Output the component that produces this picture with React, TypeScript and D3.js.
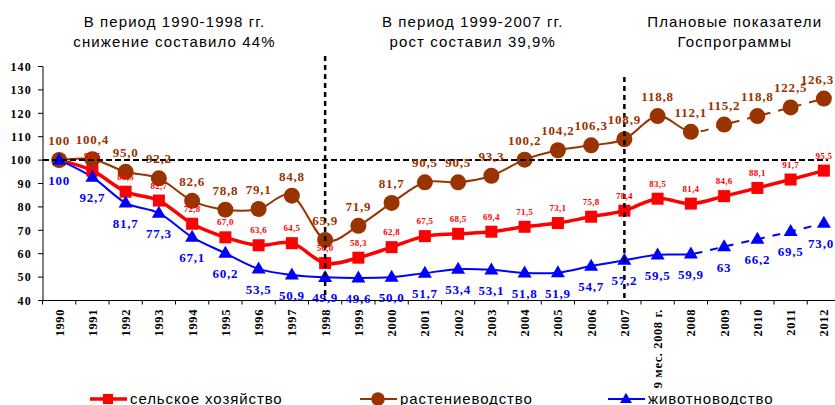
import * as d3 from "d3";

const categories = [
  "1990", "1991", "1992", "1993", "1994", "1995", "1996", "1997", "1998", "1999",
  "2000", "2001", "2002", "2003", "2004", "2005", "2006", "2007", "9 мес. 2008 г.",
  "2008", "2009", "2010", "2011", "2012",
];

// сельское хозяйство
const agriculture = [100, 95.5, 86.5, 82.7, 72.8, 67.0, 63.6, 64.5, 56.0, 58.3, 62.8, 67.5, 68.5, 69.4, 71.5, 73.1, 75.8, 78.4, 83.5, 81.4, 84.6, 88.1, 91.7, 95.5];
const agricultureLabels = ["", "95,5", "86,5", "82,7", "72,8", "67,0", "63,6", "64,5", "56,0", "58,3", "62,8", "67,5", "68,5", "69,4", "71,5", "73,1", "75,8", "78,4", "83,5", "81,4", "84,6", "88,1", "91,7", "95,5"];

// растениеводство
const crops = [100, 100.4, 95.0, 92.2, 82.6, 78.8, 79.1, 84.8, 65.9, 71.9, 81.7, 90.5, 90.5, 93.3, 100.2, 104.2, 106.3, 108.9, 118.8, 112.1, 115.2, 118.8, 122.5, 126.3];
const cropsLabels = ["100", "100,4", "95,0", "92,2", "82,6", "78,8", "79,1", "84,8", "65,9", "71,9", "81,7", "90,5", "90,5", "93,3", "100,2", "104,2", "106,3", "108,9", "118,8", "112,1", "115,2", "118,8", "122,5", "126,3"];

// животноводство
const livestock = [100, 92.7, 81.7, 77.3, 67.1, 60.2, 53.5, 50.9, 49.9, 49.6, 50.0, 51.7, 53.4, 53.1, 51.8, 51.9, 54.7, 57.2, 59.5, 59.9, 63, 66.2, 69.5, 73.0];
const livestockLabels = ["100", "92,7", "81,7", "77,3", "67,1", "60,2", "53,5", "50,9", "49,9", "49,6", "50,0", "51,7", "53,4", "53,1", "51,8", "51,9", "54,7", "57,2", "59,5", "59,9", "63", "66,2", "69,5", "73,0"];

const yTicks = [40, 50, 60, 70, 80, 90, 100, 110, 120, 130, 140];

// titles are centred on the left edge of a category band
const titles = [
  { cat: "1994", lines: ["В период 1990-1998 гг.", "снижение составило 44%"], dx: -1 },
  { cat: "2003", lines: ["В период 1999-2007 гг.", "рост составил 39,9%"], dx: -2 },
  { cat: "2010", lines: ["Плановые показатели", "Госпрограммы"], dx: -6 },
];

const SERIF = "'Liberation Serif', 'Times New Roman', serif";
const SANS = "'Liberation Sans', Arial, sans-serif";

const W = 835;
const H = 405;

export default function App() {
  const x = d3.scaleBand().domain(categories).range([42.5, 42.5 + 24 * 33.25]).padding(0);
  const cx = (i: number) => (x(categories[i]) as number) + x.bandwidth() / 2;
  const y = d3.scaleLinear().domain([40, 140]).range([300.5, 66.5]);

  const line = d3
    .line<number>()
    .x((_, i) => cx(i))
    .y((d) => y(d))
    .curve(d3.curveCardinal.tension(0));

  const splitX = cx(categories.indexOf("2008"));
  const last = categories.length - 1;

  const series = [
    { name: "сельское хозяйство", color: "#ff0000", values: agriculture, width: 3.5, marker: "square", dashed: false },
    { name: "растениеводство", color: "#993300", values: crops, width: 2, marker: "circle", dashed: true },
    { name: "животноводство", color: "#0000ff", values: livestock, width: 2, marker: "triangle", dashed: true },
  ];

  const marker = (type: string, px: number, py: number, color: string, s = 1) => {
    if (type === "square") return <rect x={px - 6 * s} y={py - 6 * s} width={12 * s} height={12 * s} fill={color} />;
    if (type === "circle") return <circle cx={px} cy={py} r={8 * s} fill={color} />;
    const h = 12 * s;
    const w = 14 * s;
    return <path d={`M${px},${py - h * 0.62}L${px + w / 2},${py + h * 0.38}L${px - w / 2},${py + h * 0.38}Z`} fill={color} />;
  };

  // big labels on the last point are pushed in so they stay inside the picture
  const labelX = (i: number) => (i === last ? W - 1 : cx(i));
  const labelAnchor = (i: number) => (i === last ? "end" : "middle");

  const x1998 = cx(categories.indexOf("1998"));
  const x2007 = cx(categories.indexOf("2007"));

  const legend = [
    { s: series[0], x: 90 },
    { s: series[1], x: 360 },
    { s: series[2], x: 608 },
  ];

  return (
    <svg width={W} height={H} style={{ position: "absolute", left: 0, top: 0, background: "#fff" }}>
      <defs>
        <clipPath id="solidPart">
          <rect x={0} y={0} width={splitX} height={H} />
        </clipPath>
        <clipPath id="dashPart">
          <rect x={splitX} y={0} width={W - splitX} height={H} />
        </clipPath>
      </defs>

      {titles.map((t) => {
        const tx = (x(t.cat) as number) + t.dx;
        return (
          <text key={t.cat} x={tx} textAnchor="middle" fontFamily={SANS} fontSize={15} letterSpacing={1.1} fill="#000">
            <tspan x={tx} y={27}>{t.lines[0]}</tspan>
            <tspan x={tx} y={47}>{t.lines[1]}</tspan>
          </text>
        );
      })}

      {/* axes */}
      <line x1={43} x2={43} y1={y(140)} y2={y(40)} stroke="#000" strokeWidth={1} />
      {yTicks.map((t) => (
        <g key={t}>
          <line x1={38} x2={43} y1={y(t)} y2={y(t)} stroke="#000" />
          <text x={32} y={y(t)} dy="0.35em" textAnchor="end" fontFamily={SERIF} fontWeight="bold" fontSize={12} letterSpacing={1.2}>
            {t}
          </text>
        </g>
      ))}
      <line x1={43} x2={W} y1={y(40)} y2={y(40)} stroke="#000" />
      {categories.map((c) => (
        <line key={c} x1={x(c) as number} x2={x(c) as number} y1={y(40)} y2={y(40) + 4} stroke="#000" />
      ))}
      {categories.map((c, i) => (
        <text
          key={c}
          transform={`translate(${cx(i)},309) rotate(-90)`}
          dy="0.35em"
          textAnchor="end"
          fontFamily={SERIF}
          fontWeight="bold"
          fontSize={12.5}
          letterSpacing={0.6}
        >
          {c}
        </text>
      ))}

      {/* series lines */}
      {series.map((s) =>
        s.dashed ? (
          <g key={s.name}>
            <path d={line(s.values) || ""} fill="none" stroke={s.color} strokeWidth={s.width} clipPath="url(#solidPart)" />
            <path d={line(s.values) || ""} fill="none" stroke={s.color} strokeWidth={s.width} strokeDasharray="8,8" strokeDashoffset={4} clipPath="url(#dashPart)" />
          </g>
        ) : (
          <path key={s.name} d={line(s.values) || ""} fill="none" stroke={s.color} strokeWidth={s.width} />
        )
      )}

      {/* markers */}
      {series.map((s) => (
        <g key={s.name + "m"}>
          {s.values.map((v, i) => (
            <g key={i}>{marker(s.marker, cx(i), y(v), s.color)}</g>
          ))}
        </g>
      ))}

      {/* reference lines */}
      <line x1={43} x2={828} y1={y(100)} y2={y(100)} stroke="#000" strokeWidth={2} strokeDasharray="6,3" />
      <line x1={x1998} x2={x1998} y1={56} y2={y(40)} stroke="#000" strokeWidth={2.5} strokeDasharray="5,4" />
      <line x1={x2007} x2={x2007} y1={77} y2={y(40)} stroke="#000" strokeWidth={2.5} strokeDasharray="5,4" />

      {/* data labels */}
      {agriculture.map((v, i) => (
        <text key={"a" + i} x={cx(i)} y={y(v) - 12} textAnchor="middle" fontFamily={SERIF} fontWeight="bold" fontSize={9} letterSpacing={0.3} fill="#ff0000">
          {agricultureLabels[i]}
        </text>
      ))}
      {crops.map((v, i) => (
        <text key={"c" + i} x={labelX(i)} y={y(v) - 15} textAnchor={labelAnchor(i)} fontFamily={SERIF} fontWeight="bold" fontSize={13} letterSpacing={0.8} fill="#993300">
          {cropsLabels[i]}
        </text>
      ))}
      {livestock.map((v, i) => (
        <text key={"l" + i} x={labelX(i)} y={y(v) + 25} textAnchor={labelAnchor(i)} fontFamily={SERIF} fontWeight="bold" fontSize={13} letterSpacing={0.8} fill="#0000ff">
          {livestockLabels[i]}
        </text>
      ))}

      {/* legend */}
      {legend.map(({ s, x: lx }) => (
        <g key={s.name + "lg"}>
          <line x1={lx} x2={lx + 37} y1={399} y2={399} stroke={s.color} strokeWidth={s.width} />
          {marker(s.marker, lx + 18, 399, s.color, 0.85)}
          <text x={lx + 40} y={404} fontFamily={SANS} fontSize={15} letterSpacing={0.9} fill="#000">
            {s.name}
          </text>
        </g>
      ))}
    </svg>
  );
}
